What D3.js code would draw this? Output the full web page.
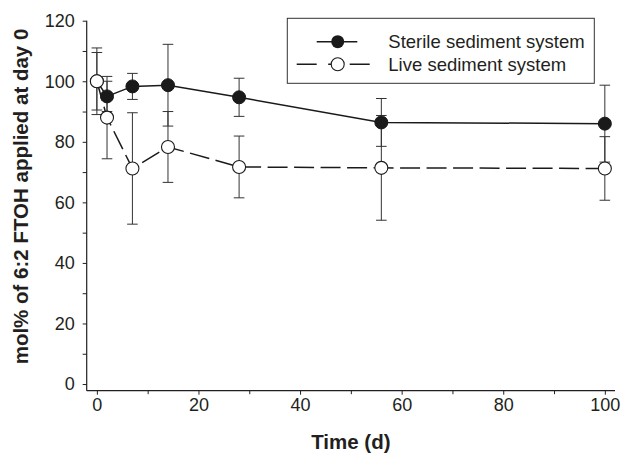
<!DOCTYPE html>
<html>
<head>
<meta charset="utf-8">
<script src="https://cdn.jsdelivr.net/npm/d3@7"></script>
<style>
  body { margin: 0; background: #fff; }
  svg { display: block; font-family: "Liberation Sans", Arial, sans-serif; }
</style>
</head>
<body>
<div id="chart-area"></div>
<script>
// data
let days = [0, 2, 7, 14, 28, 56, 100];
let sterileMean = [100, 95.0, 98.3, 98.7, 94.7, 86.4, 86.0];
let sterileErr = [11, 5, 4.3, 13.5, 6.3, 7.9, 12.7];
let liveMean = [100, 88.0, 71.2, 78.3, 71.7, 71.4, 71.2];
let liveErr = [9.5, 13.6, 18.4, 11.7, 10.2, 17.3, 10.5];
let seriesNames = ["Sterile sediment system", "Live sediment system"];
let xTicks = [0, 20, 40, 60, 80, 100];
let yTicks = [0, 20, 40, 60, 80, 100, 120];

// margins and drawing area
let margin = {top: 20.7, right: 9, bottom: 66.3, left: 86.7};
let width = 624 - margin.left - margin.right,
	height = 457 - margin.top - margin.bottom;

let ink = "#231f20";

let svg = d3.select("#chart-area")
	.append("svg")
	.attr("width", 624)
	.attr("height", 457)
  .append("g")
	.attr("transform", "translate(" + margin.left + "," + margin.top + ")");

// Scales
let x = d3.scaleLinear().domain([-2, 102]).range([0, width]);
let y = d3.scaleLinear().domain([-2.2, 120]).range([height, 0]);

// minor ticks
svg.append("g")
	.attr("transform", "translate(0," + height + ")")
	.call(d3.axisBottom(x).tickValues(d3.range(10, 100, 20)).tickSize(3.5).tickFormat(""))
	.call(g => g.select(".domain").remove())
	.selectAll("line").attr("stroke", ink);
svg.append("g")
	.call(d3.axisLeft(y).tickValues(d3.range(10, 120, 20)).tickSize(4).tickFormat(""))
	.call(g => g.select(".domain").remove())
	.selectAll("line").attr("stroke", ink);

// x axis
let xAxis = svg.append("g")
	.attr("transform", "translate(0," + height + ")")
	.call(d3.axisBottom(x).tickValues(xTicks).tickSize(4).tickSizeOuter(0).tickPadding(4));
xAxis.select(".domain").attr("stroke", ink).attr("stroke-width", 1.2)
	.attr("d", "M0,0H" + width);

// y axis
let yAxis = svg.append("g")
	.call(d3.axisLeft(y).tickValues(yTicks).tickSize(4).tickSizeOuter(0).tickPadding(8));
yAxis.select(".domain").attr("stroke", ink).attr("stroke-width", 1.2)
	.attr("d", "M0," + height + "V" + y(120));

svg.selectAll(".tick line").attr("stroke", ink);
svg.selectAll(".tick text")
	.attr("fill", ink)
	.style("font-size", "18px");

// axis titles
svg.append("text")
	.attr("x", x(50))
	.attr("y", height + 58)
	.attr("text-anchor", "middle")
	.attr("fill", ink)
	.style("font-size", "20.5px")
	.style("font-weight", "bold")
	.text("Time (d)");

svg.append("text")
	.attr("transform", "translate(" + (28 - margin.left) + "," + (196.5 - margin.top) + ") rotate(-90)")
	.attr("text-anchor", "middle")
	.attr("fill", ink)
	.style("font-size", "20.5px")
	.style("font-weight", "bold")
	.text("mol% of 6:2 FTOH applied at day 0");

let sterile = days.map((d, i) => ({t: d, v: sterileMean[i], e: sterileErr[i]}));
let live = days.map((d, i) => ({t: d, v: liveMean[i], e: liveErr[i]}));

// error bars
function errorBars(data) {
	let g = svg.append("g").attr("stroke", "#333").attr("stroke-width", 1);
	g.selectAll(".stem").data(data).enter().append("line")
		.attr("x1", d => x(d.t)).attr("x2", d => x(d.t))
		.attr("y1", d => y(d.v - d.e)).attr("y2", d => y(d.v + d.e));
	g.selectAll(".capTop").data(data).enter().append("line")
		.attr("x1", d => x(d.t) - 5.3).attr("x2", d => x(d.t) + 5.3)
		.attr("y1", d => y(d.v + d.e)).attr("y2", d => y(d.v + d.e));
	g.selectAll(".capBot").data(data).enter().append("line")
		.attr("x1", d => x(d.t) - 5.3).attr("x2", d => x(d.t) + 5.3)
		.attr("y1", d => y(d.v - d.e)).attr("y2", d => y(d.v - d.e));
}
errorBars(sterile);
errorBars(live);

let line = d3.line().x(d => x(d.t)).y(d => y(d.v));

svg.append("path").datum(sterile)
	.attr("d", line).attr("fill", "none")
	.attr("stroke", "#1a1a1a").attr("stroke-width", 1.5);

svg.append("path").datum(live)
	.attr("d", line).attr("fill", "none")
	.attr("stroke", "#1a1a1a").attr("stroke-width", 1.5)
	.attr("stroke-dasharray", "20,6.5");

// markers
svg.selectAll(".sterile").data(sterile).enter().append("circle")
	.attr("cx", d => x(d.t)).attr("cy", d => y(d.v)).attr("r", 6.5)
	.attr("fill", "#1a1a1a").attr("stroke", "#1a1a1a");

svg.selectAll(".live").data(live).enter().append("circle")
	.attr("cx", d => x(d.t)).attr("cy", d => y(d.v)).attr("r", 6.5)
	.attr("fill", "#fff").attr("stroke", "#1a1a1a").attr("stroke-width", 1.1);

// legend
let legend = svg.append("g").attr("transform", "translate(" + (287.3 - margin.left) + "," + (18.3 - margin.top) + ")");
legend.append("rect")
	.attr("width", 307).attr("height", 65)
	.attr("fill", "#fff").attr("stroke", "#333").attr("stroke-width", 1);

legend.append("line")
	.attr("x1", 29.4).attr("x2", 70).attr("y1", 23.4).attr("y2", 23.4)
	.attr("stroke", "#1a1a1a").attr("stroke-width", 1.5);
legend.append("circle")
	.attr("cx", 50.4).attr("cy", 23.4).attr("r", 6.5)
	.attr("fill", "#1a1a1a");

legend.append("line")
	.attr("x1", 9.4).attr("x2", 82.4).attr("y1", 46).attr("y2", 46)
	.attr("stroke", "#1a1a1a").attr("stroke-width", 1.5)
	.attr("stroke-dasharray", "20,11.5,5,16.5,20");
legend.append("circle")
	.attr("cx", 50.4).attr("cy", 46).attr("r", 6.5)
	.attr("fill", "#fff").attr("stroke", "#1a1a1a").attr("stroke-width", 1.1);

legend.selectAll(".label").data(seriesNames).enter().append("text")
	.attr("x", 101)
	.attr("y", (d, i) => 29.8 + i * 22.6)
	.attr("fill", ink)
	.style("font-size", "18.5px")
	.text(d => d);
</script>
</body>
</html>
